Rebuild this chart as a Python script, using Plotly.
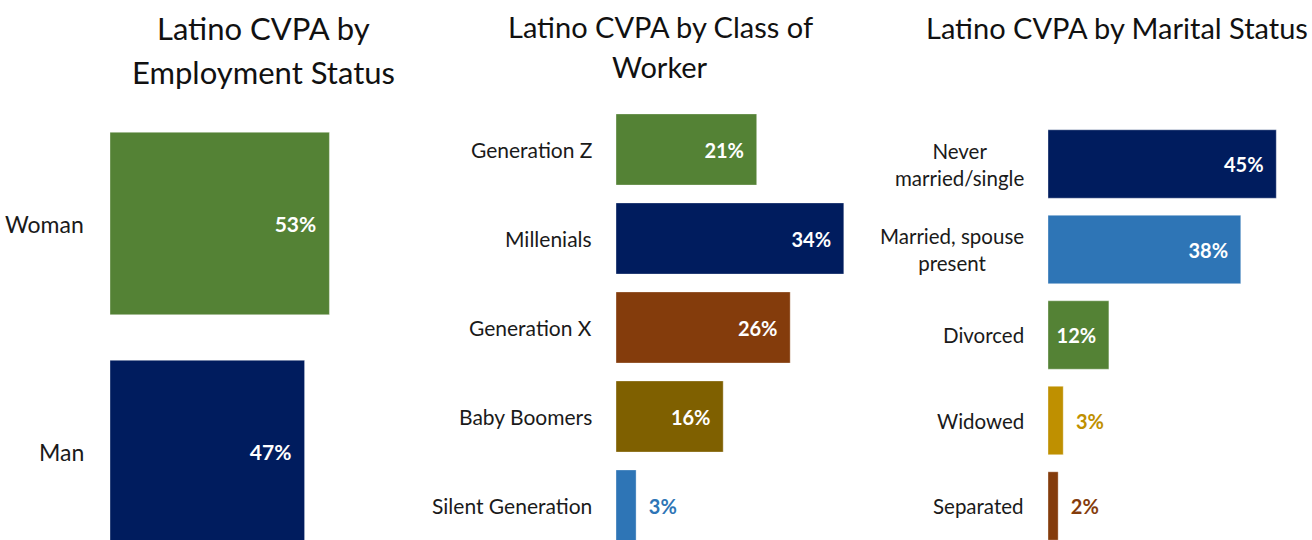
import plotly.graph_objects as go

# ---------------- data ----------------
emp_categories = ["Woman", "Man"]
emp_values = [53, 47]
emp_colors = ["#548235", "#001C5E"]

gen_categories = ["Generation Z", "Millenials", "Generation X", "Baby Boomers", "Silent Generation"]
gen_values = [21, 34, 26, 16, 3]
gen_colors = ["#548235", "#001C5E", "#843C0C", "#7F6000", "#2E75B6"]

mar_categories = ["Never<br>married/single", "Married, spouse<br>present", "Divorced", "Widowed", "Separated"]
mar_values = [45, 38, 12, 3, 2]
mar_colors = ["#001C5E", "#2E75B6", "#548235", "#BF9000", "#843C0C"]

title_lines = [["Latino CVPA by", "Employment Status"],
               ["Latino CVPA by Class of", "Worker"],
               ["Latino CVPA by Marital Status"]]

FONT = "Lato"
W, H = 1312, 540
NB = "\u00a0"

fig = go.Figure()

panels = [
    # cats, vals, colors, axis suffix, x start px, x end px, px per %, center px, pitch px, cat size, val size, gap
    (emp_categories, emp_values, emp_colors, "", 110, 440, 4.14, 223.5, 228, 23, 21, 24),
    (gen_categories, gen_values, gen_colors, "2", 616, 900, 6.70, 149.5, 89, 21, 20, 22),
    (mar_categories, mar_values, mar_colors, "3", 1048, 1312, 5.073, 164, 85.5, 20.5, 20, 22),
]

annotations = []
for cats, vals, cols, sfx, x0, x1, ppu, c0, pitch, csize, vsize, gap in panels:
    inside = [v >= 10 for v in vals]
    texts = [f"{v}%{NB}{NB}" if ins else f"{NB}{NB}{v}%" for v, ins in zip(vals, inside)]
    tcolors = ["white" if ins else c for ins, c in zip(inside, cols)]
    tpos = ["inside" if ins else "outside" for ins in inside]
    fig.add_trace(go.Bar(
        x=vals, y=cats, orientation="h",
        marker=dict(color=cols, line=dict(width=1, color="rgba(255,255,255,0.35)")),
        text=texts, textposition=tpos, insidetextanchor="end", textangle=0,
        constraintext="none", cliponaxis=False,
        textfont=dict(family=FONT, size=vsize, color=tcolors, weight="bold"),
        xaxis="x" + sfx, yaxis="y" + sfx, width=0.8, hoverinfo="skip",
    ))
    fig.layout["xaxis" + sfx] = dict(
        domain=[x0 / W, x1 / W], range=[0, (x1 - x0) / ppu],
        visible=False, anchor="y" + sfx, fixedrange=True)
    fig.layout["yaxis" + sfx] = dict(
        domain=[0, 1], range=[(H - c0) / pitch, -c0 / pitch],
        type="category", visible=False, anchor="x" + sfx, fixedrange=True)
    for cat in cats:
        annotations.append(dict(
            x=0, y=cat, xref="x" + sfx, yref="y" + sfx, text=cat,
            xanchor="right", yanchor="middle", align="center", xshift=-gap,
            showarrow=False, font=dict(family=FONT, size=csize, color="#1a1a1a")))

# title placement: center x, first line center y, line spacing, font size
title_specs = [(263, 28, 44, 31), (660, 26, 40, 29), (1117, 27, 40, 29)]
for lines, (cx, cy, dy, size) in zip(title_lines, title_specs):
    for i, line in enumerate(lines):
        annotations.append(dict(
            x=cx / W, y=1 - (cy + i * dy) / H, xref="paper", yref="paper", text=line,
            xanchor="center", yanchor="middle", align="center", showarrow=False,
            font=dict(family=FONT, size=size, color="#111111")))

fig.update_layout(
    width=W, height=H, margin=dict(l=0, r=0, t=0, b=0),
    paper_bgcolor="white", plot_bgcolor="white", showlegend=False,
    annotations=annotations, bargap=0.2,
)

fig.write_html("out.html", config={"displayModeBar": False},
               post_script="document.body.style.margin='0';document.body.style.overflow='hidden';")
